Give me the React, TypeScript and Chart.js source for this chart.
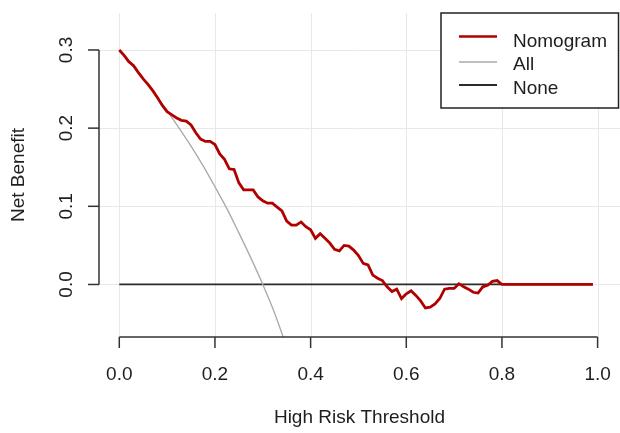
import React, { useEffect, useRef } from "react";
import { Chart, registerables } from "chart.js";

Chart.register(...registerables);

// ---- data ----
const nomogramX = [
  0.0, 0.01, 0.02, 0.03, 0.04, 0.05, 0.06, 0.07, 0.08, 0.09,
  0.1, 0.11, 0.12, 0.13, 0.14, 0.15, 0.16, 0.17, 0.18, 0.19,
  0.2, 0.21, 0.22, 0.23, 0.24, 0.25, 0.26, 0.27, 0.28, 0.29,
  0.3, 0.31, 0.32, 0.33, 0.34, 0.35, 0.36, 0.37, 0.38, 0.39,
  0.4, 0.41, 0.42, 0.43, 0.44, 0.45, 0.46, 0.47, 0.48, 0.49,
  0.5, 0.51, 0.52, 0.53, 0.54, 0.55, 0.56, 0.57, 0.58, 0.59,
  0.6, 0.61, 0.62, 0.63, 0.64, 0.65, 0.66, 0.67, 0.68, 0.69,
  0.7, 0.71, 0.72, 0.73, 0.74, 0.75, 0.76, 0.77, 0.78, 0.79,
  0.8, 0.99,
];
const nomogramY = [
  0.3, 0.293, 0.285, 0.28, 0.271, 0.263, 0.256, 0.248, 0.239, 0.229,
  0.221, 0.217, 0.213, 0.21, 0.209, 0.204, 0.194, 0.186, 0.183, 0.183,
  0.179, 0.167, 0.16, 0.148, 0.147, 0.13, 0.121, 0.121, 0.121, 0.112,
  0.107, 0.104, 0.104, 0.099, 0.094, 0.081, 0.076, 0.076, 0.08, 0.074,
  0.07, 0.059, 0.065, 0.059, 0.053, 0.045, 0.043, 0.05, 0.049, 0.044,
  0.037, 0.027, 0.025, 0.012, 0.008, 0.005, -0.003, -0.009, -0.006, -0.018,
  -0.012, -0.008, -0.014, -0.021, -0.03, -0.029, -0.025, -0.018, -0.006, -0.005,
  -0.005, 0.001, -0.003, -0.006, -0.01, -0.011, -0.003, -0.001, 0.004, 0.005,
  0.0, 0.0,
];
const allX = [0.0, 0.05, 0.1, 0.125, 0.15, 0.175, 0.2, 0.225, 0.25, 0.275, 0.3, 0.325, 0.35];
const allY = [0.3, 0.263, 0.222, 0.2, 0.177, 0.152, 0.125, 0.097, 0.066, 0.034, 0.0, -0.037, -0.08];
const noneX = [0.0, 0.99];
const noneY = [0.0, 0.0];

const xTicks = [0.0, 0.2, 0.4, 0.6, 0.8, 1.0];
const yTicks = [0.0, 0.1, 0.2, 0.3];
const seriesNames = ["Nomogram", "All", "None"];
const xTitle = "High Risk Threshold";
const yTitle = "Net Benefit";

const colors = { nomogram: "#b00000", all: "#a8a8a8", none: "#2b2b2b" };
const FONT = '19px "Liberation Sans", Arial, sans-serif';

const toPts = (xs: number[], ys: number[]) => xs.map((x, i) => ({ x, y: ys[i] }));

export default function App() {
  const ref = useRef<HTMLCanvasElement | null>(null);

  useEffect(() => {
    if (!ref.current) return;

    const decor = {
      id: "rdecor",
      beforeDatasetsDraw(chart: any) {
        const { ctx, chartArea: a, scales } = chart;
        const xs = scales.x, ys = scales.y;
        ctx.save();
        ctx.strokeStyle = "#e8e8e8";
        ctx.lineWidth = 1;
        xTicks.forEach((t) => {
          const px = Math.round(xs.getPixelForValue(t)) + 0.5;
          ctx.beginPath();
          ctx.moveTo(px, a.top);
          ctx.lineTo(px, a.bottom);
          ctx.stroke();
        });
        yTicks.forEach((t) => {
          const py = Math.round(ys.getPixelForValue(t)) + 0.5;
          ctx.beginPath();
          ctx.moveTo(a.left - 4, py);
          ctx.lineTo(a.right + 1, py);
          ctx.stroke();
        });
        ctx.restore();
      },
      afterDraw(chart: any) {
        const { ctx, chartArea: a, scales } = chart;
        const xs = scales.x, ys = scales.y;
        ctx.save();
        ctx.strokeStyle = "#333333";
        ctx.fillStyle = "#1e1e1e";
        ctx.lineWidth = 1.5;
        ctx.font = FONT;

        // x axis
        const ax = a.bottom;
        ctx.beginPath();
        ctx.moveTo(xs.getPixelForValue(xTicks[0]), ax);
        ctx.lineTo(xs.getPixelForValue(xTicks[xTicks.length - 1]), ax);
        ctx.stroke();
        ctx.textAlign = "center";
        ctx.textBaseline = "alphabetic";
        xTicks.forEach((t) => {
          const px = xs.getPixelForValue(t);
          ctx.beginPath();
          ctx.moveTo(px, ax);
          ctx.lineTo(px, ax + 11);
          ctx.stroke();
          ctx.fillText(t.toFixed(1), px, 380);
        });

        // y axis
        const ay = a.left;
        ctx.beginPath();
        ctx.moveTo(ay, ys.getPixelForValue(yTicks[0]));
        ctx.lineTo(ay, ys.getPixelForValue(yTicks[yTicks.length - 1]));
        ctx.stroke();
        yTicks.forEach((t) => {
          const py = ys.getPixelForValue(t);
          ctx.beginPath();
          ctx.moveTo(ay, py);
          ctx.lineTo(ay - 11, py);
          ctx.stroke();
          ctx.save();
          ctx.translate(71.5, py);
          ctx.rotate(-Math.PI / 2);
          ctx.fillText(t.toFixed(1), 0, 0);
          ctx.restore();
        });

        // titles
        ctx.fillText(xTitle, (xs.getPixelForValue(0) + xs.getPixelForValue(1)) / 2 + 1, 422.5);
        ctx.save();
        ctx.translate(23.5, (a.top + a.bottom) / 2);
        ctx.rotate(-Math.PI / 2);
        ctx.fillText(yTitle, 0, 0);
        ctx.restore();

        // legend
        ctx.fillStyle = "#ffffff";
        ctx.fillRect(441, 13, 177.5, 95);
        ctx.strokeStyle = "#222222";
        ctx.lineWidth = 1.5;
        ctx.strokeRect(441, 13, 177.5, 95);
        const rows = [
          { name: seriesNames[0], c: colors.nomogram, w: 2.5, ly: 36.5, ty: 46.5 },
          { name: seriesNames[1], c: colors.all, w: 1.5, ly: 62, ty: 70 },
          { name: seriesNames[2], c: colors.none, w: 1.8, ly: 85, ty: 93.5 },
        ];
        ctx.textAlign = "left";
        rows.forEach((r) => {
          ctx.strokeStyle = r.c;
          ctx.lineWidth = r.w;
          ctx.beginPath();
          ctx.moveTo(459, r.ly);
          ctx.lineTo(497, r.ly);
          ctx.stroke();
          ctx.fillStyle = "#1e1e1e";
          ctx.fillText(r.name, 513, r.ty);
        });
        ctx.restore();
      },
    };

    const chart = new Chart(ref.current, {
      type: "line",
      data: {
        datasets: [
          {
            label: seriesNames[0],
            data: toPts(nomogramX, nomogramY),
            borderColor: colors.nomogram,
            borderWidth: 2.8,
            pointRadius: 0,
            tension: 0,
          },
          {
            label: seriesNames[1],
            data: toPts(allX, allY),
            borderColor: colors.all,
            borderWidth: 1.3,
            pointRadius: 0,
            tension: 0.3,
          },
          {
            label: seriesNames[2],
            data: toPts(noneX, noneY),
            borderColor: colors.none,
            borderWidth: 1.8,
            pointRadius: 0,
            tension: 0,
          },
        ],
      },
      options: {
        responsive: false,
        animation: false,
        devicePixelRatio: 1,
        layout: { padding: { left: 99, right: 1, top: 13, bottom: 96 } },
        plugins: { legend: { display: false }, tooltip: { enabled: false } },
        scales: {
          x: { type: "linear", display: false, min: -0.0424, max: 1.0447 },
          y: { type: "linear", display: false, min: -0.0672, max: 0.3473 },
        },
      },
      plugins: [decor],
    } as any);

    return () => chart.destroy();
  }, []);

  return (
    <div style={{ position: "fixed", left: 0, top: 0, width: 620, height: 433, background: "#fff" }}>
      <canvas ref={ref} width={620} height={433} />
    </div>
  );
}
